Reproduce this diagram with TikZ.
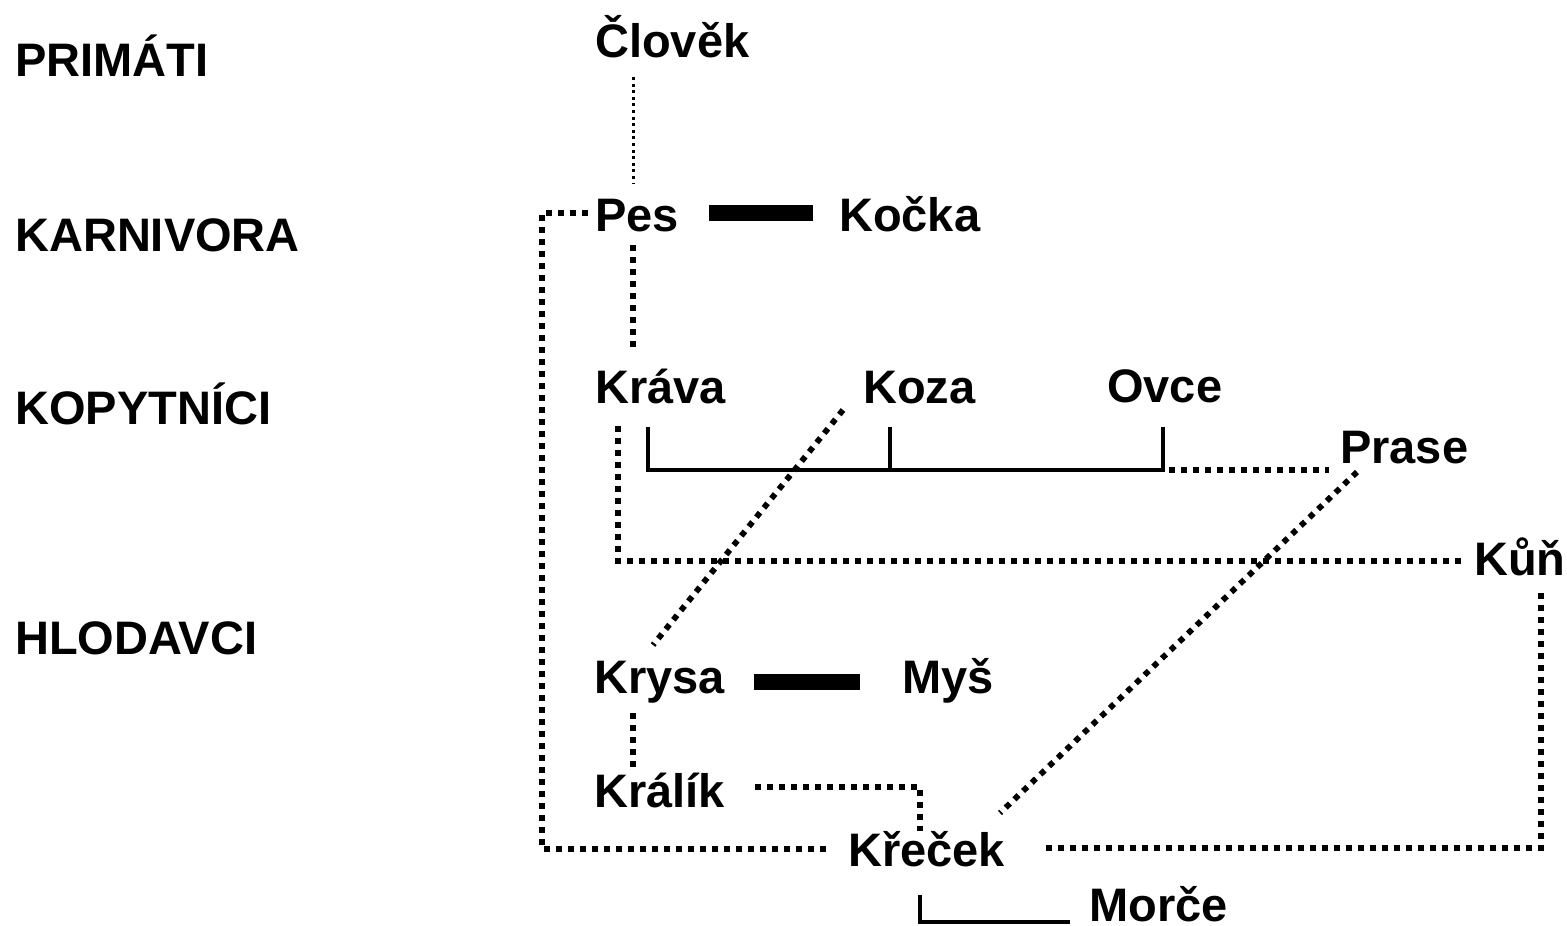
\documentclass[tikz,border=0pt]{standalone}
\usepackage{fontspec}
\setmainfont{Liberation Sans}
\begin{document}
\begin{tikzpicture}[x=1pt,y=-1pt,
  lbl/.style={anchor=base west,inner sep=0pt,font=\fontsize{47}{54}\selectfont\bfseries},
  dotthin/.style={line width=3pt,dash pattern=on 3pt off 3.6pt},
  dotthick/.style={line width=5.8pt,dash pattern=on 5.8pt off 6.2pt},
  thickbar/.style={line width=16.5pt},
  bracketline/.style={line width=4.2pt,line join=miter}]
\useasboundingbox (0,0) rectangle (1567,926);
% group labels
\node[lbl] (primati) at (15,76) {PRIMÁTI};
\node[lbl] (karnivora) at (15,251) {KARNIVORA};
\node[lbl] (kopytnici) at (15,424) {KOPYTNÍCI};
\node[lbl] (hlodavci) at (15,654) {HLODAVCI};
% species
\node[lbl] (clovek) at (595,57) {Člověk};
\node[lbl] (pes) at (595,231) {Pes};
\node[lbl] (kocka) at (839,231) {Kočka};
\node[lbl] (krava) at (595,403) {Kráva};
\node[lbl] (koza) at (863,403) {Koza};
\node[lbl] (ovce) at (1107,402) {Ovce};
\node[lbl] (prase) at (1340,463) {Prase};
\node[lbl] (kun) at (1474,575) {Kůň};
\node[lbl] (krysa) at (594,693) {Krysa};
\node[lbl] (mys) at (902,693) {Myš};
\node[lbl] (kralik) at (594,807) {Králík};
\node[lbl] (krecek) at (848,866) {Křeček};
\node[lbl] (morce) at (1089,921) {Morče};
% connector end points
\coordinate (c1a) at (633,77);   \coordinate (c1b) at (633,184);
\coordinate (c2a) at (709,213);  \coordinate (c2b) at (813,213);
\coordinate (c3a) at (633,245);  \coordinate (c3b) at (633,347);
\coordinate (c4a) at (588,213);  \coordinate (c4b) at (542,213);
\coordinate (c4c) at (542,849);  \coordinate (c4d) at (826,849);
\coordinate (b1) at (648,427);   \coordinate (b2) at (648,470);
\coordinate (b3) at (1163,470);  \coordinate (b4) at (1163,427);
\coordinate (b5) at (890,427);   \coordinate (b6) at (890,470);
\coordinate (c6a) at (1169,470); \coordinate (c6b) at (1329,470);
\coordinate (c7a) at (618,426);  \coordinate (c7b) at (618,561);
\coordinate (c7c) at (1463,561);
\coordinate (c8a) at (1541,593); \coordinate (c8b) at (1541,848);
\coordinate (c8c) at (1043,848);
\coordinate (c9a) at (843,410);  \coordinate (c9b) at (653,645);
\coordinate (c10a) at (1357,472);\coordinate (c10b) at (1000,813);
\coordinate (c11a) at (754,682); \coordinate (c11b) at (860,682);
\coordinate (c12a) at (633,713); \coordinate (c12b) at (633,768);
\coordinate (c13a) at (755,787); \coordinate (c13b) at (920,787);
\coordinate (c13c) at (920,831);
\coordinate (m1) at (920,895);   \coordinate (m2) at (920,922);
\coordinate (m3) at (1070,922);
% connectors
\draw[dotthin] (c1a) -- (c1b);
\draw[thickbar] (c2a) -- (c2b);
\draw[dotthick] (c3a) -- (c3b);
\draw[dotthick] (c4a) -- (c4b) -- (c4c) -- (c4d);
\draw[bracketline] (b1) -- (b2) -- (b3) -- (b4);
\draw[bracketline] (b5) -- (b6);
\draw[dotthick] (c6a) -- (c6b);
\draw[dotthick] (c7a) -- (c7b) -- (c7c);
\draw[dotthick] (c8a) -- (c8b) -- (c8c);
\draw[dotthick] (c9a) -- (c9b);
\draw[dotthick] (c10a) -- (c10b);
\draw[thickbar] (c11a) -- (c11b);
\draw[dotthick] (c12a) -- (c12b);
\draw[dotthick] (c13a) -- (c13b) -- (c13c);
\draw[bracketline,line width=4.6pt] (m1) -- (m2) -- (m3);
\end{tikzpicture}
\end{document}
